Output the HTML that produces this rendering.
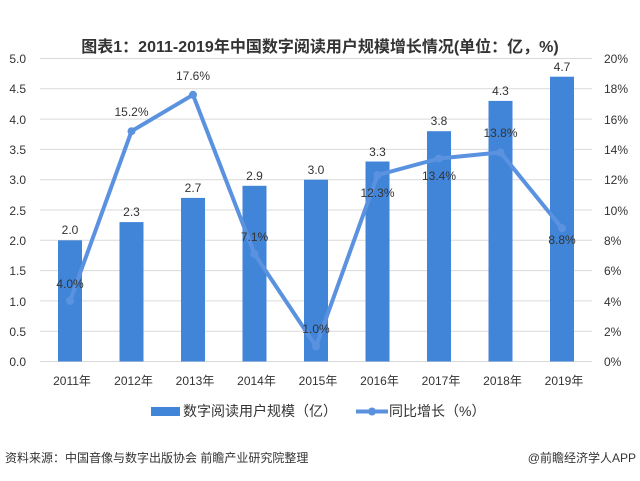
<!DOCTYPE html>
<html><head><meta charset="utf-8"><style>
body{margin:0;background:#fff;}
svg text{font-family:"Liberation Sans","Noto Sans CJK SC",sans-serif;}
</style></head><body>
<svg width="640" height="476" viewBox="0 0 640 476" xmlns="http://www.w3.org/2000/svg">
<text x="320" y="52" text-anchor="middle" font-size="16" font-weight="bold" fill="#333" font-family="Liberation Serif,Noto Serif CJK SC,serif">图表1：2011-2019年中国数字阅读用户规模增长情况(单位：亿，%)</text>
<g stroke="#d9d9d9" stroke-width="1">
<line x1="40" x2="592" y1="58.5" y2="58.5"/><line x1="40" x2="592" y1="88.8" y2="88.8"/><line x1="40" x2="592" y1="119.1" y2="119.1"/><line x1="40" x2="592" y1="149.4" y2="149.4"/><line x1="40" x2="592" y1="179.7" y2="179.7"/><line x1="40" x2="592" y1="210" y2="210"/><line x1="40" x2="592" y1="240.3" y2="240.3"/><line x1="40" x2="592" y1="270.6" y2="270.6"/><line x1="40" x2="592" y1="300.9" y2="300.9"/><line x1="40" x2="592" y1="331.2" y2="331.2"/><line x1="40" x2="592" y1="361.5" y2="361.5"/>
</g>
<g font-size="12" fill="#333" text-anchor="end">
<text x="26" y="63">5.0</text><text x="26" y="93">4.5</text><text x="26" y="124">4.0</text><text x="26" y="154">3.5</text><text x="26" y="184">3.0</text><text x="26" y="215">2.5</text><text x="26" y="245">2.0</text><text x="26" y="275">1.5</text><text x="26" y="306">1.0</text><text x="26" y="336">0.5</text><text x="26" y="366">0.0</text>
</g>
<g font-size="12" fill="#333" text-anchor="start">
<text x="604" y="63">20%</text><text x="604" y="93">18%</text><text x="604" y="124">16%</text><text x="604" y="154">14%</text><text x="604" y="184">12%</text><text x="604" y="215">10%</text><text x="604" y="245">8%</text><text x="604" y="275">6%</text><text x="604" y="306">4%</text><text x="604" y="336">2%</text><text x="604" y="366">0%</text>
</g>
<g fill="#4185d9">
<rect x="58" y="240.3" width="24" height="121.2"/>
<rect x="119.5" y="222.1" width="24" height="139.4"/>
<rect x="181" y="197.9" width="24" height="163.6"/>
<rect x="242.5" y="185.8" width="24" height="175.7"/>
<rect x="304" y="179.7" width="24" height="181.8"/>
<rect x="365.5" y="161.5" width="24" height="200"/>
<rect x="427" y="131.2" width="24" height="230.3"/>
<rect x="488.5" y="100.9" width="24" height="260.6"/>
<rect x="550" y="76.7" width="24" height="284.8"/>
</g>
<g font-size="12" fill="#333" text-anchor="middle">
<text x="70" y="234">2.0</text><text x="131.5" y="216">2.3</text><text x="193" y="192">2.7</text><text x="254.5" y="180">2.9</text><text x="316" y="174">3.0</text><text x="377.5" y="156">3.3</text><text x="439" y="125">3.8</text><text x="500.5" y="95">4.3</text><text x="562" y="71">4.7</text>
</g>
<polyline fill="none" stroke="#5b92e0" stroke-width="4" stroke-linejoin="round" points="70,300.9 131.5,131.2 193,94.8 254.5,254 316,346.4 377.5,175.1 439,158.5 500.5,152.4 562,228.2"/>
<g fill="#5b92e0">
<circle cx="70" cy="300.9" r="4"/><circle cx="131.5" cy="131.2" r="4"/><circle cx="193" cy="94.8" r="4"/><circle cx="254.5" cy="254" r="4"/><circle cx="316" cy="346.4" r="4"/><circle cx="377.5" cy="175.1" r="4"/><circle cx="439" cy="158.5" r="4"/><circle cx="500.5" cy="152.4" r="4"/><circle cx="562" cy="228.2" r="4"/>
</g>
<g font-size="12" fill="#333" text-anchor="middle">
<text x="70" y="288">4.0%</text><text x="131.5" y="116">15.2%</text><text x="193" y="80">17.6%</text><text x="254.5" y="241">7.1%</text><text x="316" y="333">1.0%</text><text x="377.5" y="197">12.3%</text><text x="439" y="180">13.4%</text><text x="500.5" y="137">13.8%</text><text x="562" y="244">8.8%</text>
</g>
<g font-size="12" fill="#333" text-anchor="middle">
<text x="72" y="385">2011年</text><text x="133.5" y="385">2012年</text><text x="195" y="385">2013年</text><text x="256.5" y="385">2014年</text><text x="318" y="385">2015年</text><text x="379.5" y="385">2016年</text><text x="441" y="385">2017年</text><text x="502.5" y="385">2018年</text><text x="564" y="385">2019年</text>
</g>
<rect x="151" y="407" width="29" height="9" fill="#4185d9"/>
<text x="183" y="416" font-size="14" fill="#333">数字阅读用户规模（亿）</text>
<line x1="356" x2="388" y1="411.5" y2="411.5" stroke="#5b92e0" stroke-width="4"/>
<circle cx="372" cy="411.5" r="4" fill="#5b92e0"/>
<text x="389" y="416" font-size="14" fill="#333">同比增长（%）</text>
<text x="5" y="462" font-size="12" fill="#333">资料来源：中国音像与数字出版协会 前瞻产业研究院整理</text>
<text x="636" y="462" font-size="12" fill="#333" text-anchor="end">@前瞻经济学人APP</text>
</svg>
</body></html>
